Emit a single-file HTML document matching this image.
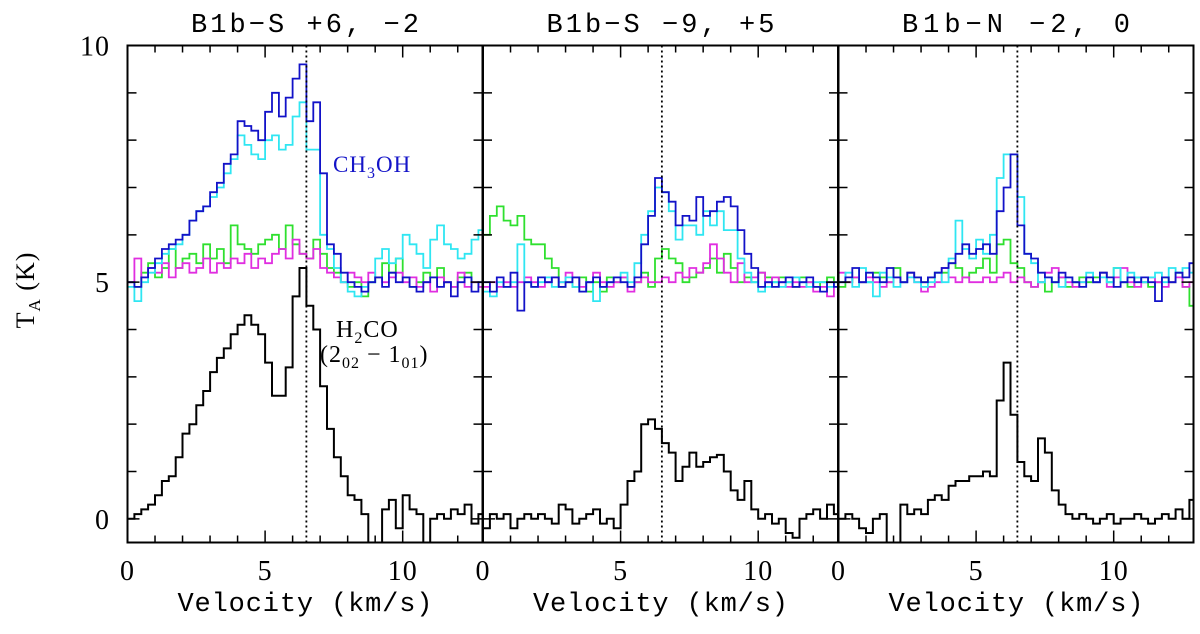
<!DOCTYPE html>
<html><head><meta charset="utf-8"><style>
html,body{margin:0;padding:0;background:#fff}
svg text{font-family:"Liberation Serif","DejaVu Serif",serif}
svg text.m{font-family:"Liberation Mono","DejaVu Sans Mono",monospace}
</style></head><body>
<svg id="chart" width="1200" height="629" viewBox="0 0 1200 629" xmlns="http://www.w3.org/2000/svg">
<g id="plots"></g>
<text x="34" y="290" font-size="26" text-anchor="middle" transform="rotate(-90 34 290)" letter-spacing="1">T<tspan font-size="17" dy="6">A</tspan><tspan dy="-6"> (K)</tspan></text>
<text x="333" y="172" font-size="23" fill="#1414c8" letter-spacing="1">CH<tspan font-size="16" dy="6">3</tspan><tspan dy="-6">OH</tspan></text>
<text x="336" y="337" font-size="24" letter-spacing="1">H<tspan font-size="16" dy="6">2</tspan><tspan dy="-6">CO</tspan></text>
<text x="320" y="362" font-size="24" letter-spacing="1">(2<tspan font-size="16" dy="6">02</tspan><tspan dy="-6"> − 1</tspan><tspan font-size="16" dy="6">01</tspan><tspan dy="-6">)</tspan></text>
</svg>
<script>
const titles = ["B1b−S +6, −2","B1b−S −9, +5","B1b−N −2, 0"];
const xTicks = [0,5,10];
const yTicks = [0,5,10];
const dv = 0.25;
const p1Blue=[5.0,4.9,5.1,5.3,5.5,5.7,5.8,5.9,6.0,6.3,6.5,6.6,6.9,7.1,7.5,7.7,8.4,8.3,8.2,8.0,8.6,9.0,8.5,8.9,9.3,9.6,8.4,8.8,7.3,5.8,5.6,5.2,5.0,4.9,4.8,5.0,5.1,4.9,5.2,5.0,5.1,4.9,4.8,5.0,5.1,4.9,5.0,4.7,5.0,5.1,4.8,5.0];
const p1Cyan=[4.9,4.6,5.0,5.2,5.4,5.6,5.7,5.8,6.0,6.3,6.5,6.6,6.8,7.0,7.3,7.6,8.1,7.9,7.7,7.6,8.0,8.1,7.8,7.9,8.5,8.8,7.8,7.8,6.0,5.7,5.3,5.0,4.8,4.7,4.9,5.0,5.5,5.7,5.4,5.5,6.0,5.8,5.6,5.3,5.9,6.2,5.8,5.7,5.5,5.6,5.9,6.1];
const p1Green=[5.0,4.9,5.2,5.4,5.1,5.3,5.7,5.3,5.5,5.6,5.4,5.8,5.5,5.7,5.4,6.2,5.8,5.7,5.6,5.8,5.9,6.0,5.7,6.2,5.8,5.6,5.5,5.9,5.6,5.3,5.2,5.0,4.9,5.0,4.7,5.0,5.1,5.4,5.2,5.5,5.1,4.9,5.0,5.2,5.1,5.3,5.0,4.9,5.1,5.2,5.0,4.9];
const p1Magenta=[5.0,5.5,5.1,5.3,5.2,5.4,5.1,5.3,5.4,5.2,5.3,5.5,5.2,5.4,5.3,5.5,5.4,5.6,5.3,5.5,5.4,5.6,5.7,5.5,5.9,5.6,5.5,5.7,5.3,5.2,5.1,5.0,5.2,5.1,5.0,5.2,5.1,5.0,5.1,5.2,5.0,5.1,4.9,5.0,4.8,5.1,5.0,4.9,5.2,4.9,5.0,4.9];
const p1Black=[0.0,0.1,0.2,0.3,0.5,0.8,0.9,1.3,1.8,2.0,2.4,2.7,3.1,3.4,3.6,3.9,4.1,4.3,4.1,3.9,3.3,2.6,2.6,3.2,4.7,5.3,4.5,4.0,2.8,1.9,1.3,0.9,0.5,0.4,0.1,-0.5,-0.5,0.2,0.4,-0.2,0.5,0.2,0.1,-0.5,0.0,0.1,0.0,0.2,0.1,0.3,-0.1,0.1];
const p2Blue=[5.0,4.8,5.1,4.9,5.2,4.4,5.0,4.9,5.1,5.0,5.1,4.9,5.0,5.1,4.8,5.0,5.1,4.9,5.0,5.1,5.0,4.9,5.1,5.8,6.4,7.2,6.9,6.7,6.2,6.4,6.3,6.8,6.4,6.5,6.7,6.8,6.6,6.1,5.6,5.3,4.9,5.0,4.9,5.0,5.1,4.9,5.0,5.1,4.9,4.8,5.0,4.9];
const p2Cyan=[4.8,4.7,5.0,4.9,5.0,5.8,5.0,4.9,5.0,5.1,4.9,5.0,5.1,4.9,4.8,5.0,4.6,4.9,5.0,5.1,5.2,5.0,5.4,6.0,6.5,7.0,6.9,6.5,5.9,6.2,6.2,6.0,6.5,6.2,6.5,6.1,6.1,5.5,5.2,5.0,4.8,4.9,5.0,4.9,5.0,5.1,5.0,4.9,5.0,5.0,4.9,5.0];
const p2Green=[6.0,6.4,6.6,6.3,6.2,6.4,5.9,5.8,5.8,5.5,5.3,4.9,5.0,4.9,5.1,4.8,5.0,4.8,5.1,5.0,5.1,4.9,5.0,5.2,4.9,5.5,5.7,5.5,5.4,5.0,5.1,5.2,5.3,5.5,5.2,5.6,5.3,5.0,5.1,5.0,5.2,5.1,5.0,5.1,5.0,4.9,5.1,5.0,4.9,5.0,5.1,5.0];
const p2Magenta=[4.9,5.0,4.9,5.0,4.9,5.0,5.1,5.0,4.9,5.0,5.1,5.0,5.2,5.1,4.9,5.0,5.2,5.0,4.9,5.0,5.1,4.8,5.0,5.1,5.0,5.0,5.1,5.0,5.2,5.1,5.3,5.2,5.4,5.8,5.5,5.2,5.0,5.4,5.0,5.1,5.2,5.0,5.1,5.0,4.9,5.0,4.9,5.0,4.8,4.9,4.7,5.0];
const p2Black=[-0.2,0.1,0.0,0.1,-0.2,0.0,0.1,0.0,0.1,0.0,-0.1,0.3,0.2,-0.1,0.0,0.1,0.2,-0.1,0.0,-0.2,0.3,0.8,1.0,2.0,2.1,1.9,1.6,1.4,0.8,1.1,1.4,1.1,1.2,1.3,1.35,1.0,0.6,0.4,0.8,0.2,0.0,0.1,-0.1,0.0,-0.3,-0.4,0.0,0.1,0.2,0.0,0.3,0.1];
const p3Blue=[5.0,5.1,5.3,5.0,5.2,5.1,5.0,5.3,5.1,5.0,5.2,5.1,5.0,5.1,5.2,5.3,5.4,5.6,5.8,5.6,5.7,5.8,5.6,6.5,7.0,7.7,6.2,5.6,5.5,5.2,5.1,5.0,5.2,5.1,5.0,4.9,5.1,5.0,5.2,5.1,4.9,5.0,5.1,5.0,5.1,5.0,4.6,5.1,5.0,5.2,5.1,5.4];
const p3Cyan=[5.0,5.2,4.9,5.3,5.0,4.7,5.2,5.1,4.9,5.0,5.1,5.0,4.9,5.0,5.2,5.0,5.5,6.3,5.7,5.5,5.9,5.6,6.0,7.2,7.7,7.7,6.8,5.6,5.4,5.0,5.1,5.0,4.9,5.1,5.0,5.0,5.2,5.0,5.1,5.0,5.3,5.0,5.2,5.1,5.0,5.1,5.2,5.0,5.3,5.2,5.3,5.2];
const p3Green=[4.9,5.0,5.1,5.0,5.0,5.2,5.1,5.0,5.3,5.0,5.2,5.1,5.0,5.1,5.2,5.2,5.4,5.3,5.1,5.2,5.3,5.5,5.2,5.8,5.9,5.4,5.3,5.0,4.9,5.0,4.8,5.0,5.1,4.9,5.0,5.1,5.0,5.1,5.2,5.0,5.3,5.0,4.9,5.1,5.0,4.9,5.0,5.1,5.0,5.2,4.9,4.5];
const p3Magenta=[5.2,5.0,5.1,5.0,5.1,5.0,4.9,5.0,5.1,5.0,5.2,5.0,4.8,4.9,5.0,5.3,5.1,5.0,5.1,5.0,5.0,5.1,5.0,5.1,5.2,5.0,5.1,5.0,4.9,5.0,5.2,5.3,5.1,5.0,4.9,5.0,5.1,5.0,5.2,4.9,5.1,5.3,5.0,4.9,5.0,5.1,5.0,4.9,5.0,5.1,4.9,5.0];
const p3Black=[0.0,0.1,0.0,-0.2,-0.3,0.0,0.1,-0.5,-0.5,0.3,0.1,0.2,0.1,0.4,0.5,0.4,0.7,0.8,0.8,0.9,0.9,1.0,0.9,2.5,3.3,2.2,1.2,0.9,0.8,1.7,1.4,0.6,0.3,0.1,0.0,0.1,0.0,-0.1,0.0,0.1,-0.1,0.0,0.0,0.1,0.0,-0.1,0.0,0.1,0.0,0.2,0.0,0.4];
const vline = 6.5;

const NS="http://www.w3.org/2000/svg";
const panelX=[127.5,483,838.5], PW=355, TOP=45.5, BOT=542.5;
const XMIN=0, XMAX=12.9, YMIN=-0.5, YMAX=10;
const panels=[
 {black:p1Black,green:p1Green,magenta:p1Magenta,cyan:p1Cyan,blue:p1Blue},
 {black:p2Black,green:p2Green,magenta:p2Magenta,cyan:p2Cyan,blue:p2Blue},
 {black:p3Black,green:p3Green,magenta:p3Magenta,cyan:p3Cyan,blue:p3Blue}];
const colors={black:"#000",green:"#2fe02f",magenta:"#e02ee0",cyan:"#2fe6f2",blue:"#1212c8"};
const root=document.getElementById('plots');
function mk(tag,attrs,parent){const e=document.createElementNS(NS,tag);for(const k in attrs)e.setAttribute(k,attrs[k]);parent.appendChild(e);return e;}
panels.forEach((p,pi)=>{
  const x0=panelX[pi];
  const sx=v=>x0+(v-XMIN)/(XMAX-XMIN)*PW;
  const sy=t=>BOT-(t-YMIN)/(YMAX-YMIN)*(BOT-TOP);
  const g=mk('g',{},root);
  
  
  const cid='clip'+pi;
  const cp=mk('clipPath',{id:cid},g);
  mk('rect',{x:x0,y:TOP,width:PW,height:BOT-TOP},cp);
  const sg=mk('g',{'clip-path':'url(#'+cid+')'},g);
  ['black','green','magenta','cyan','blue'].forEach(key=>{
    const arr=p[key];let d='';
    arr.forEach((val,i)=>{
      const a=sx(i*dv), b=sx(i*dv+dv), y=sy(val);
      d+=(i===0?'M'+a.toFixed(1)+','+y.toFixed(1):'V'+y.toFixed(1))+'H'+b.toFixed(1);
    });
    const path=mk('path',{d:d,fill:'none',stroke:colors[key],'stroke-width':key==='black'?2:1.8},sg);
    
    
  });
  const dl=mk('line',{x1:sx(vline),x2:sx(vline),y1:TOP,y2:BOT,stroke:'#000','stroke-width':1.8,'stroke-dasharray':'2,3'},g);
  
  
  const fr=mk('rect',{x:x0,y:TOP,width:PW,height:BOT-TOP,fill:'none',stroke:'#000','stroke-width':2},g);
  
  
  let td='';
  for(let v=0;v<=12;v++){const L=xTicks.includes(v)?12:7,x=sx(v);td+=`M${x},${BOT}v${-L}M${x},${TOP}v${L}`;}
  for(let t=0;t<=9;t++){const L=yTicks.includes(t)?12:9,y=sy(t);td+=`M${x0},${y}h${L}M${x0+PW},${y}h${-L}`;}
  const tk=mk('path',{d:td,stroke:'#000','stroke-width':1.5,fill:'none'},g);
  
  
  xTicks.forEach(v=>{const t=mk('text',{x:sx(v),y:580,'font-size':28,'text-anchor':'middle','letter-spacing':1},g);t.textContent=v;
    
    });
  const xt=mk('text',{class:'m',x:x0+PW/2,y:611,'font-size':27,'text-anchor':'middle',textLength:255,lengthAdjust:'spacing'},g);xt.textContent='Velocity (km/s)';
  
  
  const tt=mk('text',{class:'m',x:x0+PW/2,y:32,'font-size':27,'text-anchor':'middle',textLength:228,lengthAdjust:'spacing'},g);tt.textContent=titles[pi];
  
  
  if(pi===0){yTicks.forEach(t=>{const e=mk('text',{x:110,y:sy(t)+10,'font-size':28,'text-anchor':'end','letter-spacing':1},g);e.textContent=t;
    
    });}
});
</script>
</body></html>
